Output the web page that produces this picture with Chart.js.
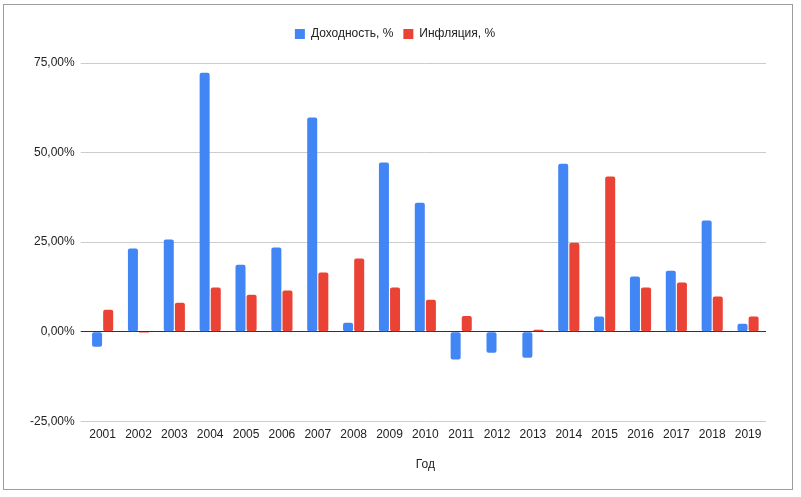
<!DOCTYPE html>
<html>
<head>
<meta charset="utf-8">
<script src="https://cdn.jsdelivr.net/npm/chart.js@4"></script>
<style>
  html, body { margin: 0; padding: 0; background: #fff; }
  #wrap { position: relative; width: 801px; height: 497px; }
  #frame { position: absolute; left: 3px; top: 4px; width: 788px; height: 484px; border: 1px solid #9e9e9e; pointer-events: none; }
</style>
</head>
<body>
<div id="wrap">
  <canvas id="returnsChart" width="801" height="497"></canvas>
  <div id="frame"></div>
</div>
<script>
// Доходность vs инфляция по годам
const years = ['2001','2002','2003','2004','2005','2006','2007','2008','2009','2010',
               '2011','2012','2013','2014','2015','2016','2017','2018','2019'];
const returns   = [-4.2, 23.2, 25.7, 72.3, 18.7, 23.5, 59.8, 2.5, 47.2, 36.0,
                   -7.8, -5.9, -7.3, 46.9, 4.2, 15.4, 17.0, 31.0, 2.2];
const inflation = [6.1, -0.3, 8.1, 12.3, 10.3, 11.5, 16.5, 20.4, 12.3, 8.9,
                   4.4, 0.1, 0.5, 24.8, 43.3, 12.3, 13.7, 9.8, 4.2];
const yTicks = [-25, 0, 25, 50, 75];

const font = { family: "'Liberation Sans', Arial, sans-serif", size: 12 };

// extra space under the legend
const legendGap = {
  id: 'legendGap',
  beforeInit(chart) {
    const fit = chart.legend.fit;
    chart.legend.fit = function () { fit.call(this); this.height += 13; };
  }
};

new Chart(document.getElementById('returnsChart'), {
  type: 'bar',
  data: {
    labels: years,
    datasets: [
      { label: 'Доходность, %', data: returns, backgroundColor: '#4285F4',
        borderRadius: 2, borderSkipped: false, categoryPercentage: 0.62, barPercentage: 0.9 },
      { label: 'Инфляция, %', data: inflation, backgroundColor: '#EA4335',
        borderRadius: 2, borderSkipped: false, categoryPercentage: 0.62, barPercentage: 0.9 }
    ]
  },
  options: {
    responsive: false, animation: false,
    layout: { padding: { top: 18, left: 24, right: 35, bottom: 21 } },
    plugins: {
      legend: {
        position: 'top',
        labels: { boxWidth: 10, boxHeight: 10, padding: 10, color: '#222', font: font }
      },
      tooltip: { enabled: false }
    },
    scales: {
      x: {
        grid: { display: false, drawTicks: false },
        border: { display: false },
        ticks: { color: '#222', font: font, padding: 6, maxRotation: 0 },
        title: { display: true, text: 'Год', color: '#222', font: font, padding: { top: 10 } }
      },
      y: {
        min: yTicks[0], max: yTicks[yTicks.length - 1],
        afterBuildTicks: s => { s.ticks = yTicks.map(v => ({ value: v })); },
        grid: {
          color: c => c.tick && c.tick.value === 0 ? '#333' : '#ccc',
          tickColor: c => c.tick && c.tick.value === 0 ? '#333' : '#ccc',
          tickLength: 4
        },
        border: { display: false },
        ticks: {
          color: '#222', font: font, padding: 6,
          callback: v => v.toFixed(2).replace('.', ',') + '%'
        }
      }
    }
  },
  plugins: [legendGap]
});
</script>
</body>
</html>
